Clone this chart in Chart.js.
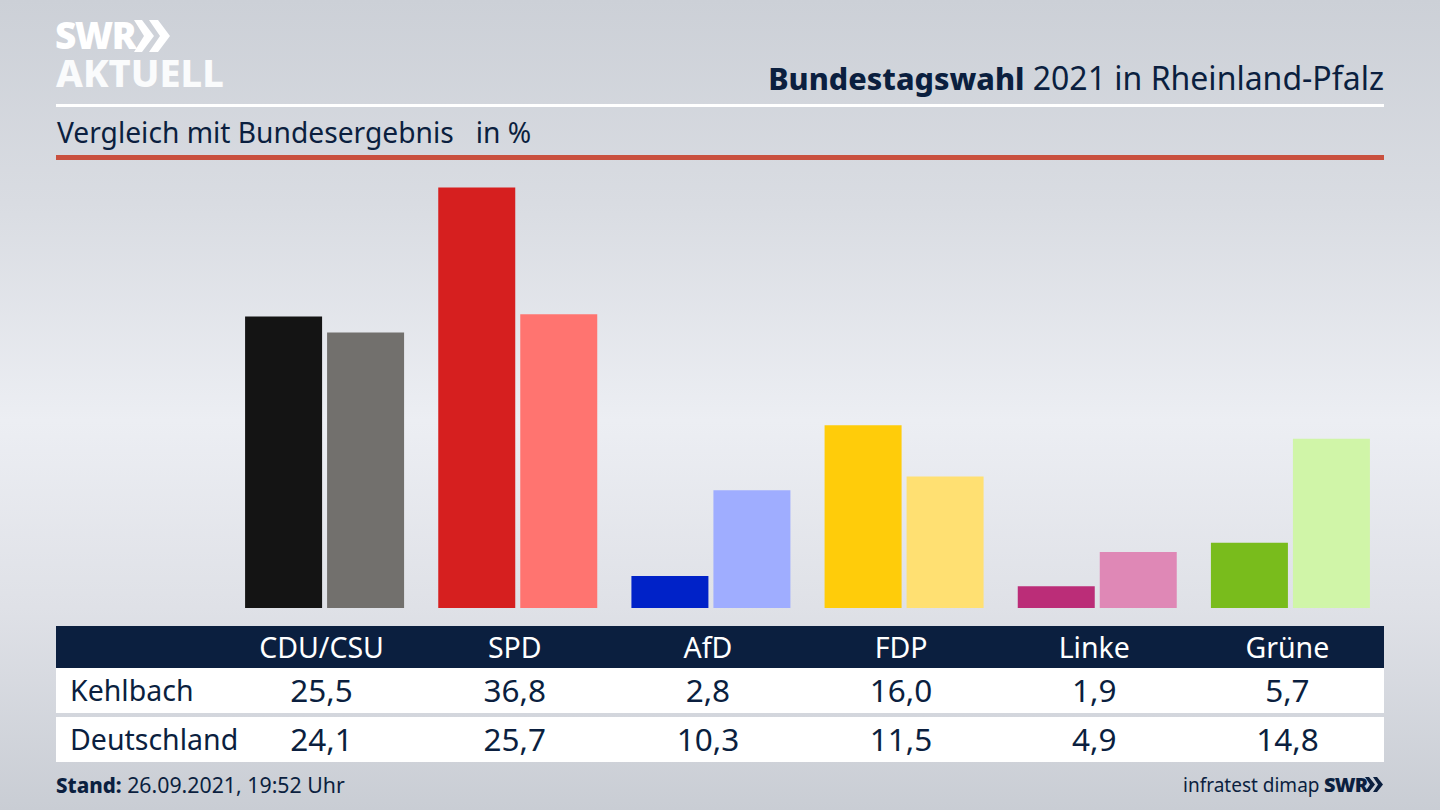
<!DOCTYPE html>
<html lang="de">
<head>
<meta charset="utf-8">
<title>Bundestagswahl 2021 in Rheinland-Pfalz</title>
<script src="https://cdn.jsdelivr.net/npm/chart.js@4"></script>
<style>
  html, body { margin: 0; padding: 0; }
  body {
    position: relative; width: 1440px; height: 810px; overflow: hidden;
    font-family: "Noto Sans", sans-serif; color: #0b1f3f;
    background: linear-gradient(180deg, #ccd0d7 0%, #d9dce2 25%, #eceef3 52%, #dfe1e7 75%, #c9cdd4 100%);
  }
  .abs { position: absolute; white-space: nowrap; }
  #logo1 { left: 55px; top: 12px; font: 900 37px/46px "Noto Sans", sans-serif; color: #fff; letter-spacing: -1.5px; }
  #logo2 { left: 56px; top: 49px; font: 800 38px/46px "Noto Sans", sans-serif; color: #fafbfc; letter-spacing: 0; }
  #chev { left: 134px; top: 20px; }
  #title { right: 56px; top: 57px; font-size: 32px; line-height: 42px; }
  #title b { font-weight: 800; font-size: 30.5px; }
  #lineW { left: 56px; top: 104px; width: 1328px; height: 3px; background: #fff; }
  #sub { left: 57px; top: 112px; font-size: 28.2px; line-height: 40px; }
  #lineR { left: 56px; top: 155px; width: 1328px; height: 5px; background: #c9503f; }
  #wrap { position: absolute; left: 228px; top: 180px; width: 1159px; height: 428px; }
  .band { position: absolute; left: 56px; width: 1328px; }
  .cell { position: absolute; transform: translateX(-50%); white-space: nowrap; }
  .rowlab { position: absolute; left: 14px; white-space: nowrap; font-size: 28.5px; }
  #stand { left: 56px; top: 770px; font-size: 21.3px; line-height: 30px; }
  #stand b { font-weight: 800; font-size: 20.5px; }
  #src { left: 1183px; top: 771px; font-size: 19px; line-height: 28px; }
  #swr2 { left: 1324px; top: 771px; font: 900 20px/28px "Noto Sans", sans-serif; letter-spacing: -0.8px; }
  #chev2 { left: 1365px; top: 777px; }
</style>
</head>
<body>
<div class="abs" id="logo1">SWR</div>
<svg class="abs" id="chev" width="38" height="32" viewBox="0 0 38 32" fill="#fff">
  <polygon points="0,0 8,0 20,16 8,32 0,32 10,16"/>
  <polygon points="15,0 24,0 36,16 24,32 15,32 26,16"/>
</svg>
<div class="abs" id="logo2">AKTUELL</div>
<div class="abs" id="title"><b>Bundestagswahl</b> 2021 in Rheinland-Pfalz</div>
<div class="abs" id="lineW"></div>
<div class="abs" id="sub">Vergleich mit Bundesergebnis &nbsp; in %</div>
<div class="abs" id="lineR"></div>

<div id="wrap"><canvas id="chart"></canvas></div>

<div class="band" id="head" style="top:626px;height:42px;background:#0b1f3f;color:#fff"></div>
<div class="band" id="row1" style="top:668px;height:45px;background:#fff"></div>
<div class="band" id="row2" style="top:717px;height:45px;background:#fff"></div>

<div class="abs" id="stand"><b>Stand:</b> 26.09.2021, 19:52 Uhr</div>
<div class="abs" id="src">infratest dimap</div>
<div class="abs" id="swr2">SWR</div>
<svg class="abs" id="chev2" width="20" height="15" viewBox="0 0 20 15" fill="#0b1f3f">
  <polygon points="0,0 4,0 10,7.5 4,15 0,15 5,7.5"/>
  <polygon points="8,0 12,0 18,7.5 12,15 8,15 13,7.5"/>
</svg>

<script>
  const parties = ['CDU/CSU', 'SPD', 'AfD', 'FDP', 'Linke', 'Grüne'];
  const kehlbach = [25.5, 36.8, 2.8, 16.0, 1.9, 5.7];
  const deutschland = [24.1, 25.7, 10.3, 11.5, 4.9, 14.8];
  const rowLabels = ['Kehlbach', 'Deutschland'];
  const darkColors = ['#141414', '#d61f1f', '#0022c8', '#ffcc0a', '#bb2d78', '#79bc1c'];
  const lightColors = ['#72706d', '#ff7470', '#9fadff', '#ffe072', '#df88b6', '#d0f5a8'];

  const fmt = v => v.toFixed(1).replace('.', ',');

  Chart.defaults.animation = false;

  const chart = new Chart(document.getElementById('chart'), {
    type: 'bar',
    data: {
      labels: parties,
      datasets: [
        { label: rowLabels[0], data: kehlbach, backgroundColor: darkColors, borderWidth: 0 },
        { label: rowLabels[1], data: deutschland, backgroundColor: lightColors, borderWidth: 0 },
      ]
    },
    options: {
      responsive: true,
      maintainAspectRatio: false,
      categoryPercentage: 0.849,
      barPercentage: 0.939,
      layout: { padding: 0 },
      plugins: { legend: { display: false }, tooltip: { enabled: false } },
      scales: {
        x: { display: false },
        y: { display: false, min: 0, max: 37.45 },
      },
    }
  });

  // Table under the chart, columns follow the category scale (text sits a bit left of the bars)
  const wrapLeft = 228, bandLeft = 56, textShift = -3;
  function colX(i) { return chart.scales.x.getPixelForTick(i) + wrapLeft - bandLeft + textShift; }

  function addCell(parent, text, x, top, size) {
    const el = document.createElement('div');
    el.className = 'cell';
    el.textContent = text;
    el.style.left = x + 'px';
    el.style.top = top + 'px';
    el.style.fontSize = size + 'px';
    el.style.lineHeight = '42px';
    parent.appendChild(el);
  }

  const rows = [[document.getElementById('row1'), kehlbach], [document.getElementById('row2'), deutschland]];
  parties.forEach((p, i) => {
    addCell(document.getElementById('head'), p, colX(i), 0, 28.5);
    rows.forEach(([el, vals]) => addCell(el, fmt(vals[i]), colX(i), 1, 31.5));
  });
  rows.forEach(([el], r) => {
    const lab = document.createElement('div');
    lab.className = 'rowlab';
    lab.textContent = rowLabels[r];
    lab.style.top = '1px';
    lab.style.lineHeight = '42px';
    el.appendChild(lab);
  });
</script>
</body>
</html>
